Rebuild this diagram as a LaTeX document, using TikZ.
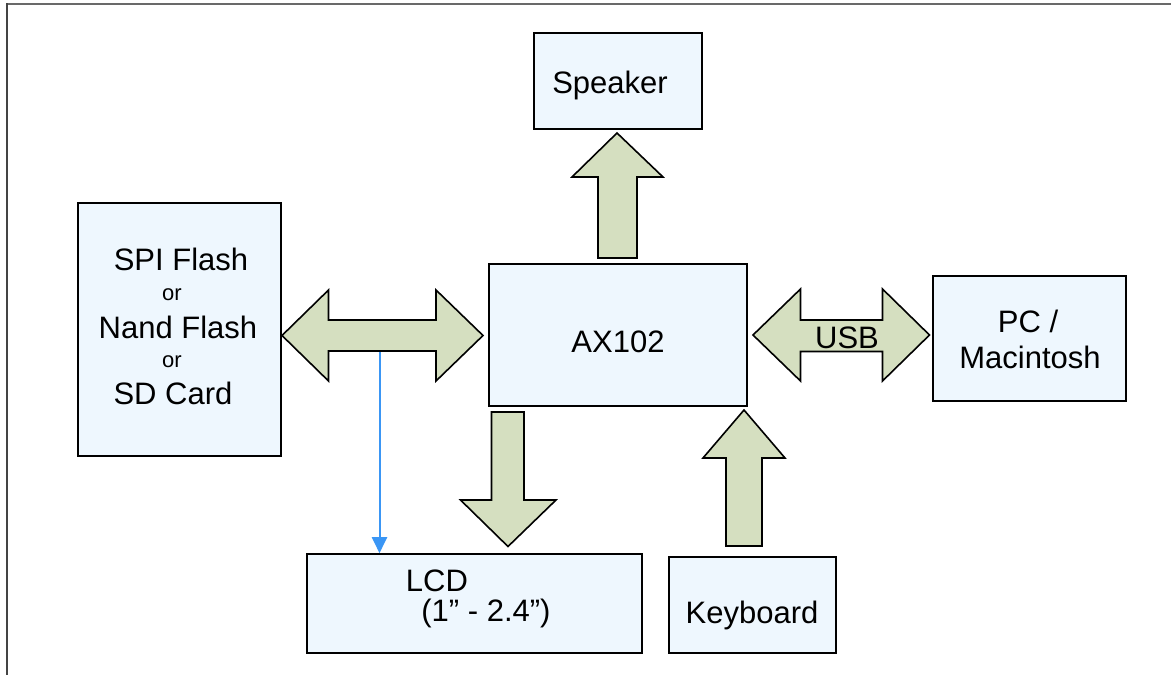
\documentclass[tikz,border=0pt]{standalone}
\usepackage{fontspec}
\setmainfont{Liberation Sans}
\usetikzlibrary{arrows.meta}
\definecolor{boxfill}{HTML}{EEF7FE}
\definecolor{arrowfill}{HTML}{D5DFC0}
\definecolor{bluewire}{HTML}{3A96F5}
\definecolor{framegray}{HTML}{444444}
\tikzset{
  blockbox/.style={draw=black, line width=1.6pt, fill=boxfill, inner sep=0pt},
  bigarrow/.style={draw=black, line width=1.6pt, fill=arrowfill, line join=miter},
  lbl/.style={inner sep=0pt, anchor=base, font=\fontsize{31}{34}\selectfont},
  smalllbl/.style={inner sep=0pt, anchor=base, font=\fontsize{22}{26}\selectfont},
}
\begin{document}
\begin{tikzpicture}[x=1pt,y=-1pt]
\useasboundingbox (0,0) rectangle (1171,675);
\fill[white] (0,0) rectangle (1171,675);
% outer frame
\draw[framegray!80, line width=2.2pt] (6,4) -- (1171,4);
\draw[framegray, line width=2.4pt] (7,3) -- (7,675);

% boxes
\node[blockbox, minimum width=168pt, minimum height=96pt] (spk) at (618,81) {};
\node[blockbox, minimum width=203pt, minimum height=253pt] (mem) at (179.5,329.5) {};
\node[blockbox, minimum width=258pt, minimum height=142pt] (ax) at (618,335) {};
\node[blockbox, minimum width=193pt, minimum height=125pt] (pc) at (1029.5,338.5) {};
\node[blockbox, minimum width=335pt, minimum height=99pt] (lcd) at (474.5,603.5) {};
\node[blockbox, minimum width=167pt, minimum height=96pt] (kbd) at (752.5,605) {};

% labels
\node[lbl] (spkt) at (610,93) {Speaker};
\node[lbl] (m1) at (181,270) {SPI Flash};
\node[smalllbl] (m2) at (172,300) {or};
\node[lbl] (m3) at (178,338) {Nand Flash};
\node[smalllbl] (m4) at (172,367) {or};
\node[lbl] (m5) at (173,404) {SD Card};
\node[lbl] (axt) at (618,352) {AX102};
\node[lbl] (pc1) at (1028,332) {PC /};
\node[lbl] (pc2) at (1030,368) {Macintosh};
\node[lbl] (lcd1) at (437,591) {LCD};
\node[lbl] (lcd2) at (486,621) {(1” - 2.4”)};
\node[lbl] (kbdt) at (752,623) {Keyboard};

% block arrows
% speaker (up)
\draw[bigarrow] (617,133) -- (663,177) -- (637,177) -- (637,258) -- (598,258) -- (598,177) -- (572,177) -- cycle;
% memory double arrow
\draw[bigarrow] (282,335.5) -- (328.5,290) -- (328.5,320) -- (436,320) -- (436,290) -- (483,335.5)
  -- (436,381) -- (436,351) -- (328.5,351) -- (328.5,381) -- cycle;
% USB double arrow
\draw[bigarrow] (753,335) -- (800.5,289) -- (800.5,320) -- (882.5,320) -- (882.5,289) -- (929.5,335)
  -- (882.5,381) -- (882.5,351.5) -- (800.5,351.5) -- (800.5,381) -- cycle;
\node[lbl] (usb) at (847,348) {USB};
% LCD (down)
\draw[bigarrow] (491.5,412) -- (524,412) -- (524,500) -- (556,500) -- (508,546.5) -- (460.5,500) -- (491.5,500) -- cycle;
% keyboard (up)
\draw[bigarrow] (744,410) -- (785,458) -- (762,458) -- (762,546) -- (726,546) -- (726,458) -- (703,458) -- cycle;

% blue wire
\coordinate (wtop) at (379.5,352);
\draw[bluewire, line width=2pt, -{Triangle[length=16pt,width=15pt]}] (wtop) -- (wtop |- lcd.north);
\end{tikzpicture}
\end{document}
